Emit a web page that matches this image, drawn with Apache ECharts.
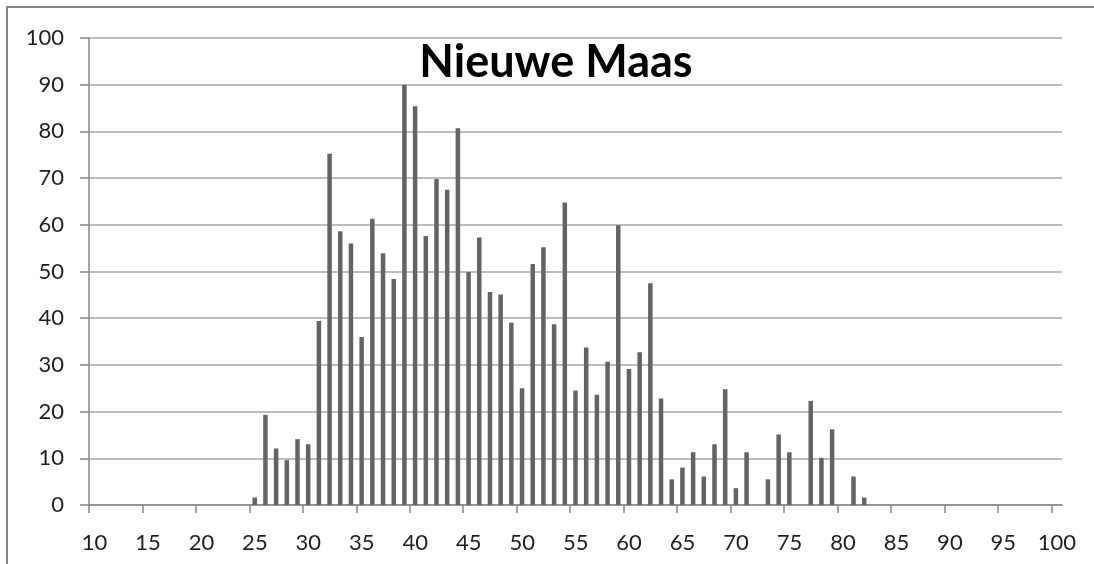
<!DOCTYPE html>
<html>
<head>
<meta charset="utf-8">
<script src="https://cdn.jsdelivr.net/npm/echarts@6/dist/echarts.min.js"></script>
<style>
html,body{margin:0;padding:0;background:#fff;}
#chart{width:1094px;height:564px;}
</style>
</head>
<body>
<div id="chart"></div>
<script>
const titleText = 'Nieuwe Maas';
// bin lower edges (bars sit in the middle of each unit bin)
const bins = [25,26,27,28,29,30,31,32,33,34,35,36,37,38,39,40,41,42,43,44,45,46,47,48,49,50,51,52,53,54,55,56,57,58,59,60,61,62,63,64,65,66,67,68,69,70,71,72,73,74,75,76,77,78,79,80,81,82];
const counts = [1.6,19.3,12.1,9.6,14.1,13.0,39.4,75.2,58.6,56.0,36.0,61.3,53.9,48.4,90.0,85.4,57.6,69.8,67.5,80.7,49.9,57.3,45.6,45.1,39.0,25.0,51.6,55.2,38.7,64.8,24.5,33.7,23.6,30.7,59.9,29.1,32.7,47.5,22.8,5.5,8.0,11.3,6.1,13.0,24.8,3.6,11.3,0,5.5,15.1,11.3,0,22.3,10.1,16.2,0,6.1,1.6];
const xTickLabels = [10,15,20,25,30,35,40,45,50,55,60,65,70,75,80,85,90,95,100];
const yTickLabels = [0,10,20,30,40,50,60,70,80,90,100];

const chart = echarts.init(document.getElementById('chart'), null, {renderer:'canvas'});
const axisColor = '#868686';
const gridColor = '#a6a6a6';
const font = 'Lato, "Open Sans", sans-serif';

chart.setOption({
  animation: false,
  backgroundColor: '#ffffff',
  grid: {left: 89, right: 32, top: 38, bottom: 59, containLabel: false},
  xAxis: {
    type: 'value',
    min: xTickLabels[0],
    max: 101,
    interval: 5,
    axisLine: {show: true, onZero: true, lineStyle: {color: axisColor, width: 1.5}},
    axisTick: {show: true, length: 8, inside: false, customValues: xTickLabels, lineStyle: {color: axisColor, width: 1.5}},
    axisLabel: {show: true, customValues: xTickLabels, margin: 27, padding: [0, 0, 0, 11], color: '#1e1e1e', fontFamily: font, fontSize: 22},
    splitLine: {show: false}
  },
  yAxis: {
    type: 'value',
    min: yTickLabels[0],
    max: yTickLabels[yTickLabels.length-1],
    interval: 10,
    axisLine: {show: true, lineStyle: {color: axisColor, width: 1.5}},
    axisTick: {show: true, length: 9, inside: false, lineStyle: {color: axisColor, width: 1.5}},
    axisLabel: {margin: 25, color: '#1e1e1e', fontFamily: font, fontSize: 22},
    splitLine: {show: true, lineStyle: {color: gridColor, width: 1.5}}
  },
  series: [{
    type: 'bar',
    data: bins.map((b, i) => [b + 0.5, counts[i]]),
    barWidth: 4.5,
    itemStyle: {color: '#636363'},
    silent: true
  }],
  graphic: [
    {type: 'rect', shape: {x: 7, y: 7, width: 1300, height: 800}, style: {fill: null, stroke: '#878787', lineWidth: 2}, silent: true, z: 100},
    {type: 'text', x: 556, y: 62, style: {text: titleText, font: 'bold 45px Lato, "Open Sans", sans-serif', fill: '#000', textAlign: 'center', textVerticalAlign: 'middle'}, z: 50}
  ]
});
</script>
</body>
</html>
